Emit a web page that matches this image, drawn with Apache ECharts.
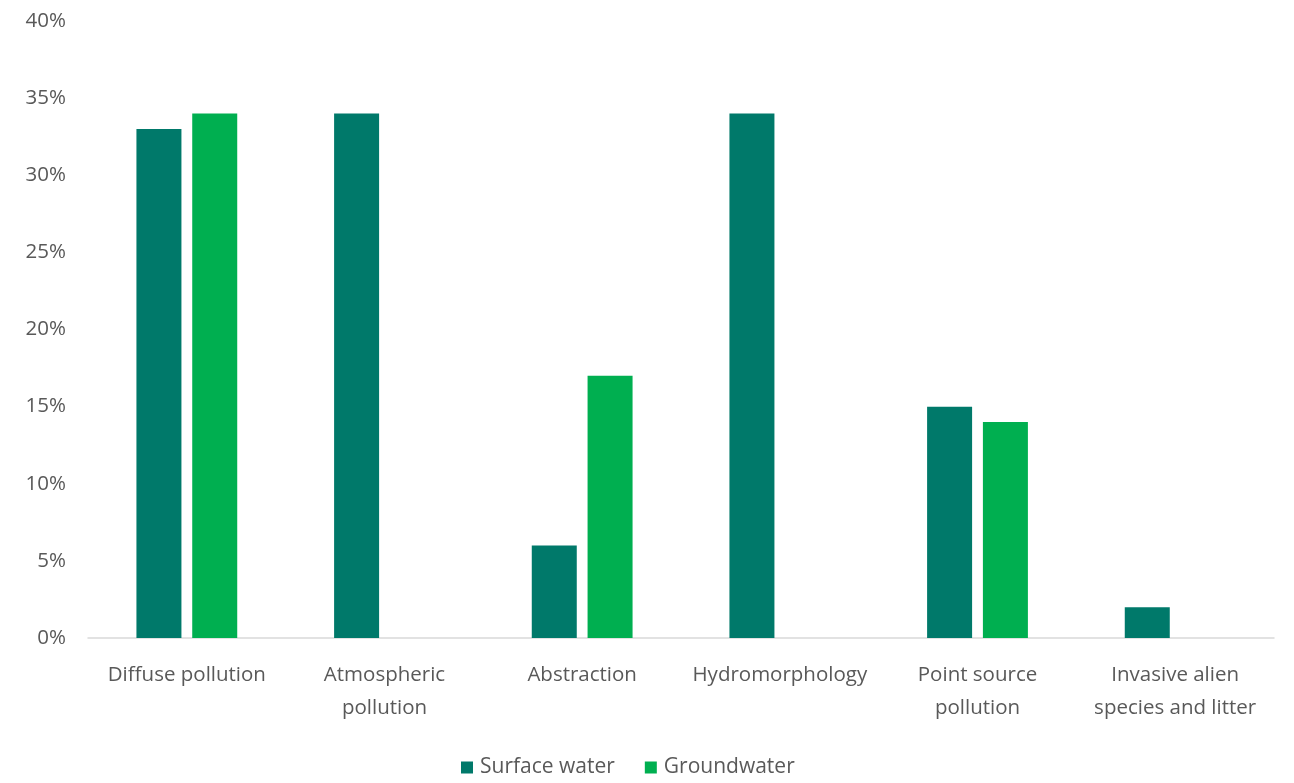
<!DOCTYPE html>
<html>
<head>
<meta charset="utf-8">
<script src="https://cdn.jsdelivr.net/npm/echarts@6/dist/echarts.min.js"></script>
<style>
  html, body { margin: 0; padding: 0; background: #ffffff; }
  #chart { width: 1294px; height: 783px; }
</style>
</head>
<body>
<div id="chart"></div>
<script>
// Pressures on water bodies, share of water bodies affected (%)
const categories = [
  'Diffuse pollution',
  'Atmospheric\npollution',
  'Abstraction',
  'Hydromorphology',
  'Point source\npollution',
  'Invasive alien\nspecies and litter'
];
const surfaceWater = [33, 34, 6, 34, 15, 2];
const groundwater = [34, null, 17, null, 14, null];
const yTicks = [0, 5, 10, 15, 20, 25, 30, 35, 40];

const textColor = '#595959';
const fontFamily = '"Open Sans", "DejaVu Sans", sans-serif';

const chart = echarts.init(document.getElementById('chart'), null, { renderer: 'canvas' });
chart.setOption({
  backgroundColor: '#ffffff',
  animation: false,
  grid: { left: 88, right: 20, top: 21, bottom: 145, containLabel: false },
  legend: {
    data: ['Surface water', 'Groundwater'],
    bottom: 0,
    left: 456,
    itemWidth: 12,
    itemHeight: 12,
    itemGap: 30,
    icon: 'rect',
    textStyle: { color: textColor, fontSize: 21, fontFamily: fontFamily, padding: [0, 0, 0, 2] }
  },
  xAxis: {
    type: 'category',
    data: categories,
    axisLine: { show: true, lineStyle: { color: '#d9d9d9', width: 1.5 } },
    axisTick: { show: false },
    axisLabel: {
      color: textColor,
      fontSize: 20.5,
      fontFamily: fontFamily,
      lineHeight: 33,
      margin: 21,
      interval: 0
    }
  },
  yAxis: {
    type: 'value',
    min: yTicks[0],
    max: yTicks[yTicks.length - 1],
    interval: 5,
    splitLine: { show: false },
    axisLine: { show: false },
    axisTick: { show: false },
    axisLabel: {
      color: textColor,
      fontSize: 20.5,
      fontFamily: fontFamily,
      margin: 22,
      formatter: v => v + '%'
    }
  },
  series: [
    {
      name: 'Surface water',
      type: 'bar',
      data: surfaceWater,
      barWidth: 45,
      barGap: '24%',
      itemStyle: { color: '#00796a' }
    },
    {
      name: 'Groundwater',
      type: 'bar',
      data: groundwater,
      barWidth: 45,
      itemStyle: { color: '#00af50' }
    }
  ]
});
</script>
</body>
</html>
